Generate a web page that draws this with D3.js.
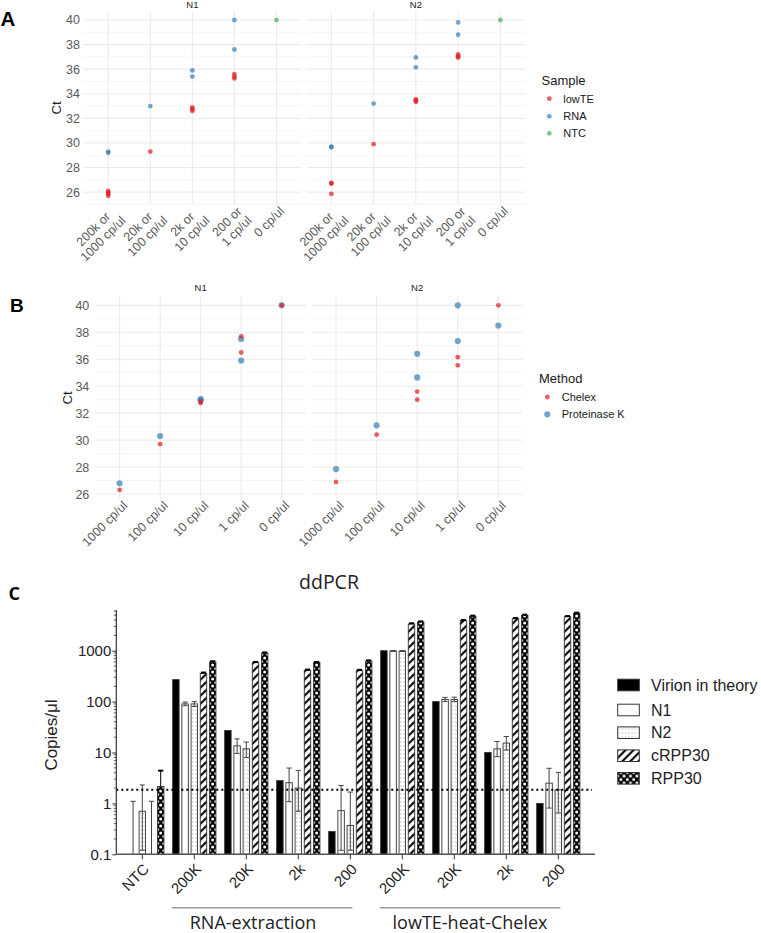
<!DOCTYPE html>
<html><head><meta charset="utf-8">
<script src="https://cdn.jsdelivr.net/npm/d3@7"></script>
<style>body{margin:0;background:#fff} svg{display:block}</style>
</head><body><svg id="c" width="761" height="933"></svg>
<script>
// ---------------- DATA ----------------
// Panel A (Ct values per dilution category)
const catLabelsA = [["200k or","1000 cp/ul"],["20k or","100 cp/ul"],["2k or","10 cp/ul"],["200 or","1 cp/ul"],["0 cp/ul"]];
const ctA_N1_lowTE = [[26.1,25.95,25.85,25.7],[29.3],[32.9,32.75,32.6],[35.6,35.4,35.25],[]];
const ctA_N1_RNA   = [[29.2,29.3],[33.0],[35.9,35.4],[40,37.6],[]];
const ctA_N1_NTC   = [[],[],[],[],[40]];
const ctA_N2_lowTE = [[26.75,26.7,25.85],[29.9],[33.55,33.45,33.35],[37.2,37.05,36.95],[]];
const ctA_N2_RNA   = [[29.7,29.65],[33.2],[36.95,36.15],[39.8,38.8],[]];
const ctA_N2_NTC   = [[],[],[],[],[40]];
const samplesA = ["lowTE","RNA","NTC"];

// Panel B
const catLabelsB = [["1000 cp/ul"],["100 cp/ul"],["10 cp/ul"],["1 cp/ul"],["0 cp/ul"]];
const ctB_N1_Chelex = [[26.3],[29.7],[32.85,32.75],[37.7,36.5],[40]];
const ctB_N1_PK     = [[26.8],[30.3],[33.05,32.95],[37.5,35.9],[40]];
const ctB_N2_Chelex = [[26.9],[30.4],[33.6,33.0],[36.15,35.55],[40]];
const ctB_N2_PK     = [[27.85],[31.1],[36.4,34.65],[40,37.35],[38.5]];
const methodsB = ["Chelex","Proteinase K"];

// Panel C (ddPCR copies/µl)
const groupsC = ["NTC","200K","20K","2k","200","200K","20K","2k","200"];
const seriesC = ["Virion in theory","N1","N2","cRPP30","RPP30"];
const virion   = [null,270,27,2.8,0.28,1000,100,10,1];
const n1       = [null,90,13.5,2.55,0.72,990,110,11.8,2.5];
const n1Hi     = [1.1,98,18.5,4.95,2.25,1010,121,16.4,4.9];
const n1Lo     = [0.1,83,9.6,1.08,0.12,970,100,8.3,0.81];
const n2       = [0.7,90,11.8,2.0,0.37,985,110,15.3,1.85];
const n2Hi     = [2.3,100,16,4.45,1.67,1005,122,20.6,4.06];
const n2Lo     = [0.12,80,8,0.7,0.12,965,100,11.2,0.65];
const crpp30   = [null,358,580,410,405,3340,3890,4250,4650];
const crpp30Hi = [1.1,372,600,425,420,3450,4000,4380,4780];
const rpp30    = [2.15,600,895,580,625,3650,4740,4950,5420];
const rpp30Hi  = [4.4,620,925,600,645,3760,4880,5100,5580];
const lodLine  = 1.85;
const yTicksC  = [0.1,1,10,100,1000];
const methodGroups = [{name:"RNA-extraction", from:1, to:4},{name:"lowTE-heat-Chelex", from:5, to:8}];

// ---------------- DRAW ----------------
const svg = d3.select("#c");
svg.append("rect").attr("width",761).attr("height",933).attr("fill","#fff");
const RED="#E41A1C", BLUE="#377EB8", GREEN="#4DAF4A";
const ARIAL="'Liberation Sans', Arial, sans-serif";
const CALI="'Open Sans', 'Noto Sans', sans-serif";

function flat(arr){ const out=[]; arr.forEach((vals,i)=>vals.forEach(v=>out.push({i,v}))); return out; }

function drawFacet(p){
  const x = d3.scalePoint().domain(d3.range(5)).range([p.x0,p.x1]).padding(0.6);
  const y = p.y;
  const [yb, yt] = y.range();
  const g = svg.append("g");
  const dom = y.domain();
  const minor = d3.range(Math.ceil(dom[0]), Math.floor(dom[1])+1).filter(v=>v%2!==0);
  const major = d3.range(Math.ceil(dom[0]), Math.floor(dom[1])+1).filter(v=>v%2===0);
  g.selectAll(".mi").data(minor).join("line").attr("x1",p.x0).attr("x2",p.x1)
    .attr("y1",d=>y(d)).attr("y2",d=>y(d)).attr("stroke","#f0f0f0").attr("stroke-width",0.7);
  g.selectAll(".ma").data(major).join("line").attr("x1",p.x0).attr("x2",p.x1)
    .attr("y1",d=>y(d)).attr("y2",d=>y(d)).attr("stroke","#ebebeb").attr("stroke-width",1.1);
  g.selectAll(".vg").data(d3.range(5)).join("line").attr("x1",d=>x(d)).attr("x2",d=>x(d))
    .attr("y1",yb).attr("y2",yt).attr("stroke","#ebebeb").attr("stroke-width",1.1);
  p.series.forEach(s=>{
    g.selectAll(null).data(flat(s.values)).join("circle")
      .attr("cx",d=>x(d.i)).attr("cy",d=>y(d.v)).attr("r",s.r)
      .attr("fill",s.color).attr("fill-opacity",0.7);
  });
  // strip
  svg.append("text").attr("x",(p.x0+p.x1)/2).attr("y",p.stripY).attr("text-anchor","middle")
    .attr("font-family",ARIAL).attr("font-size",9.5).attr("fill","#1a1a1a").text(p.strip);
  // y labels
  if(p.showY){
    svg.append("g").selectAll("text").data(major).join("text")
      .attr("x",p.yLabX).attr("y",d=>y(d)).attr("dy","0.36em").attr("text-anchor","end")
      .attr("font-family",ARIAL).attr("font-size",12.5).attr("fill","#5a5a5a").text(d=>d);
  }
  // x labels
  p.labels.forEach((lines,i)=>{
    const lg = svg.append("g").attr("transform",`translate(${x(i)},${yb+1.5}) rotate(-45)`);
    const ts = lines.map((t,k)=>lg.append("text").attr("font-family",ARIAL).attr("font-size",12.5)
      .attr("fill","#5a5a5a").attr("text-anchor","middle").attr("y",10+13.5*k).text(t));
    const W = d3.max(ts, t=>t.node().getComputedTextLength());
    ts.forEach(t=>t.attr("x",2-W/2));
  });
}

// ---- Panel A
function expandDomain(arrs){
  const all = arrs.flatMap(a=>a.flat());
  const [mn,mx] = d3.extent(all); const e=(mx-mn)*0.05; return [mn-e,mx+e];
}
const yA = d3.scaleLinear().domain(expandDomain([ctA_N1_lowTE,ctA_N1_RNA,ctA_N1_NTC,ctA_N2_lowTE,ctA_N2_RNA,ctA_N2_NTC])).range([204.6,11.2]);
drawFacet({x0:83,x1:301.7,y:yA,strip:"N1",stripY:8,showY:true,yLabX:80,labels:catLabelsA,
  series:[{values:ctA_N1_lowTE,color:RED,r:2.4},{values:ctA_N1_RNA,color:BLUE,r:2.4},{values:ctA_N1_NTC,color:GREEN,r:2.4}]});
drawFacet({x0:306,x1:525.7,y:yA,strip:"N2",stripY:8,showY:false,labels:catLabelsA,
  series:[{values:ctA_N2_lowTE,color:RED,r:2.4},{values:ctA_N2_RNA,color:BLUE,r:2.4},{values:ctA_N2_NTC,color:GREEN,r:2.4}]});
svg.append("text").attr("transform","translate(61,108) rotate(-90)").attr("text-anchor","middle")
  .attr("font-family",ARIAL).attr("font-size",13).attr("fill","#1a1a1a").text("Ct");
// legend A
svg.append("text").attr("x",541.5).attr("y",84.5).attr("font-family",ARIAL).attr("font-size",13).attr("fill","#1a1a1a").text("Sample");
[RED,BLUE,GREEN].forEach((c,k)=>{
  const yy=[98.7,116.3,133.3][k];
  svg.append("circle").attr("cx",549.3).attr("cy",yy).attr("r",2.4).attr("fill",c).attr("fill-opacity",0.7);
  svg.append("text").attr("x",563.3).attr("y",yy).attr("dy","0.35em").attr("font-family",ARIAL).attr("font-size",11)
    .attr("fill","#1a1a1a").text(samplesA[k]);
});
svg.append("text").attr("x",0.5).attr("y",25.5).attr("font-family",ARIAL).attr("font-weight","bold").attr("font-size",20.5).text("A");

// ---- Panel B
const yB = d3.scaleLinear().domain(expandDomain([ctB_N1_Chelex,ctB_N1_PK,ctB_N2_Chelex,ctB_N2_PK])).range([499.2,296.1]);
drawFacet({x0:95.3,x1:306,y:yB,strip:"N1",stripY:291,showY:true,yLabX:89.3,labels:catLabelsB,
  series:[{values:ctB_N1_PK,color:BLUE,r:3.1},{values:ctB_N1_Chelex,color:RED,r:2.4}]});
drawFacet({x0:311.7,x1:522.7,y:yB,strip:"N2",stripY:291,showY:false,labels:catLabelsB,
  series:[{values:ctB_N2_PK,color:BLUE,r:3.1},{values:ctB_N2_Chelex,color:RED,r:2.4}]});
svg.append("text").attr("transform","translate(72,398) rotate(-90)").attr("text-anchor","middle")
  .attr("font-family",ARIAL).attr("font-size",13).attr("fill","#1a1a1a").text("Ct");
svg.append("text").attr("x",539).attr("y",383).attr("font-family",ARIAL).attr("font-size",13).attr("fill","#1a1a1a").text("Method");
[[RED,2.4],[BLUE,3.1]].forEach(([c,r],k)=>{
  const yy=[397,414.3][k];
  svg.append("circle").attr("cx",547.3).attr("cy",yy).attr("r",r).attr("fill",c).attr("fill-opacity",0.7);
  svg.append("text").attr("x",561.7).attr("y",yy).attr("dy","0.35em").attr("font-family",ARIAL).attr("font-size",11)
    .attr("fill","#1a1a1a").text(methodsB[k]);
});
svg.append("text").attr("x",10).attr("y",311.7).attr("font-family",ARIAL).attr("font-weight","bold").attr("font-size",19).text("B");

// ---- Panel C
const defs = svg.append("defs");
const pDots = defs.append("pattern").attr("id","pDots").attr("patternUnits","userSpaceOnUse").attr("width",3.2).attr("height",4);
pDots.append("rect").attr("width",3.2).attr("height",4).attr("fill","#fff");
pDots.append("rect").attr("x",1.1).attr("y",1.5).attr("width",1).attr("height",1).attr("fill","#999");
const pHatch = defs.append("pattern").attr("id","pHatch").attr("patternUnits","userSpaceOnUse").attr("width",8).attr("height",8);
pHatch.append("rect").attr("width",8).attr("height",8).attr("fill","#fff");
pHatch.append("path").attr("d","M-2,2 L2,-2 M0,8 L8,0 M6,10 L10,6").attr("stroke","#000").attr("stroke-width",2);
const pCross = defs.append("pattern").attr("id","pCross").attr("patternUnits","userSpaceOnUse").attr("width",6.4).attr("height",7);
pCross.append("rect").attr("width",6.4).attr("height",7).attr("fill","#000");
pCross.append("circle").attr("cx",3.2).attr("cy",0).attr("r",1.5).attr("fill","#fff");
pCross.append("circle").attr("cx",3.2).attr("cy",7).attr("r",1.5).attr("fill","#fff");
pCross.append("circle").attr("cx",0).attr("cy",3.5).attr("r",1.5).attr("fill","#fff");
pCross.append("circle").attr("cx",6.4).attr("cy",3.5).attr("r",1.5).attr("fill","#fff");
const fills = {"Virion in theory":"#000","N1":"#fff","N2":"url(#pDots)","cRPP30":"url(#pHatch)","RPP30":"url(#pCross)"};
const valuesC = {"Virion in theory":virion,"N1":n1,"N2":n2,"cRPP30":crpp30,"RPP30":rpp30};
const hiC = {"N1":n1Hi,"N2":n2Hi,"cRPP30":crpp30Hi,"RPP30":rpp30Hi};
const loC = {"N1":n1Lo,"N2":n2Lo};

const yC = d3.scaleLog().domain([0.1,6300]).range([854.3,610]);
const xC = d3.scaleBand().domain(d3.range(groupsC.length)).range([116.3,584.3]);
const sub = d3.scaleBand().domain(seriesC).range([-23,23]).paddingInner(0.3).paddingOuter(0.15);
const bw = sub.bandwidth();
const y0 = yC(0.1);
const gC = svg.append("g");
groupsC.forEach((gname,i)=>{
  const cx = xC(i)+xC.bandwidth()/2;
  seriesC.forEach(s=>{
    const v = valuesC[s][i];
    const bx = cx + sub(s);
    const bg = gC.append("g").attr("transform",`translate(${bx},0)`);
    if(v!=null){
      bg.append("rect").attr("x",0).attr("y",yC(v)).attr("width",bw).attr("height",y0-yC(v))
        .attr("fill",fills[s]).attr("stroke","#333").attr("stroke-width",0.9);
    }
    if(hiC[s]){
      const hi = hiC[s][i];
      const lo = loC[s] ? loC[s][i] : (v!=null ? v : 0.1);
      const m = bw/2;
      const col = (s==="N1"||s==="N2"||v==null) ? "#444" : "#000";
      bg.append("line").attr("x1",m).attr("x2",m).attr("y1",yC(Math.max(lo,0.1))).attr("y2",yC(hi))
        .attr("stroke",col).attr("stroke-width",1);
      bg.append("line").attr("x1",m-2.6).attr("x2",m+2.6).attr("y1",yC(hi)).attr("y2",yC(hi))
        .attr("stroke",col).attr("stroke-width",(s==="cRPP30"||s==="RPP30")&&v!=null?2:1);
      if(loC[s] && lo>0.1){
        bg.append("line").attr("x1",m-2.6).attr("x2",m+2.6).attr("y1",yC(lo)).attr("y2",yC(lo))
          .attr("stroke",col).attr("stroke-width",1);
      }
    }
  });
});
// LOD dotted line
gC.append("line").attr("x1",116.3).attr("x2",592).attr("y1",yC(lodLine)).attr("y2",yC(lodLine))
  .attr("stroke","#000").attr("stroke-width",2).attr("stroke-dasharray","2,3");
// axes
const axY = d3.axisLeft(yC).tickValues(yTicksC).tickFormat(d3.format("~g")).tickSize(4).tickSizeOuter(0);
const gy = svg.append("g").attr("transform","translate(116.3,0)").call(axY);
gy.select(".domain").attr("stroke","#333").attr("stroke-width",1.2);
gy.selectAll(".tick line").attr("stroke","#333");
gy.selectAll(".tick text").attr("font-family",ARIAL).attr("font-size",15).attr("fill","#222").attr("x",-5);
gy.select(".domain").attr("d","M0,610V854.3");
// minor ticks
const minorTicks = [];
[0.1,1,10,100,1000].forEach(dec=>{ for(let k=2;k<=9;k++){ const v=dec*k; if(v<=6300) minorTicks.push(v);} });
svg.append("g").selectAll("line").data(minorTicks).join("line")
  .attr("x1",113.8).attr("x2",116.3).attr("y1",d=>yC(d)).attr("y2",d=>yC(d)).attr("stroke","#333").attr("stroke-width",0.8);
// x axis
svg.append("line").attr("x1",116.3).attr("x2",595).attr("y1",y0).attr("y2",y0).attr("stroke","#555").attr("stroke-width",1.5);
groupsC.forEach((gname,i)=>{
  const cx = xC(i)+xC.bandwidth()/2;
  svg.append("line").attr("x1",cx).attr("x2",cx).attr("y1",y0).attr("y2",y0+5).attr("stroke","#333");
  svg.append("text").attr("transform",`translate(${cx+4},${y0+12}) rotate(-45)`).attr("text-anchor","end")
    .attr("dy","0.35em").attr("font-family",ARIAL).attr("font-size",15).attr("fill","#222").text(gname);
});
methodGroups.forEach(m=>{
  const xa = xC(m.from)+xC.bandwidth()/2 - 22.5, xb = xC(m.to)+xC.bandwidth()/2 + 2;
  svg.append("line").attr("x1",xa).attr("x2",xb).attr("y1",907.7).attr("y2",907.7).attr("stroke","#999").attr("stroke-width",1.6);
  svg.append("text").attr("x",(xa+xb)/2 - (m.from===1?9:0)).attr("y",929).attr("text-anchor","middle")
    .attr("font-family",CALI).attr("font-size",18).attr("fill","#222").text(m.name);
});
svg.append("text").attr("transform","translate(57,735) rotate(-90)").attr("text-anchor","middle")
  .attr("font-family",ARIAL).attr("font-size",17).attr("fill","#222").text("Copies/μl");
svg.append("text").attr("x",329).attr("y",589).attr("text-anchor","middle").attr("font-family",CALI)
  .attr("font-size",19.5).attr("fill","#222").text("ddPCR");
svg.append("text").attr("x",8.5).attr("y",600).attr("font-family",CALI).attr("font-weight","bold").attr("font-size",18).text("C");
// legend C
seriesC.forEach((s,k)=>{
  const yy=[685,710,732.7,755.7,778.3][k];
  const lg = svg.append("g").attr("transform",`translate(617.7,${yy-5.8})`);
  lg.append("rect").attr("width",21.6).attr("height",11.6).attr("fill",fills[s]).attr("stroke","#333").attr("stroke-width",1);
  svg.append("text").attr("x",651).attr("y",yy).attr("dy","0.36em").attr("font-family",ARIAL).attr("font-size",16)
    .attr("fill","#222").text(s);
});
</script></body></html>
